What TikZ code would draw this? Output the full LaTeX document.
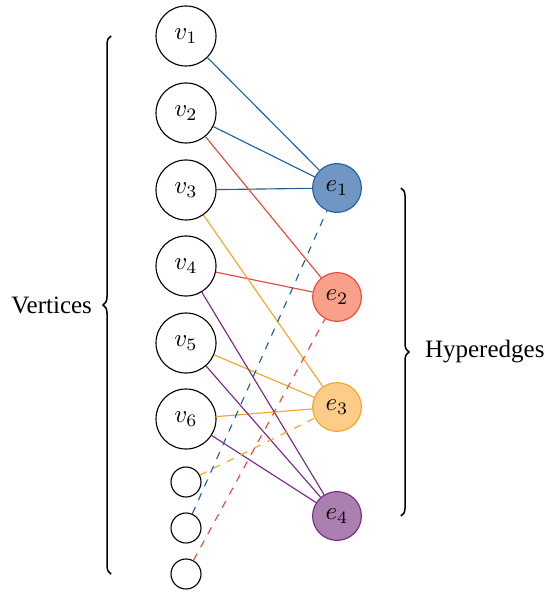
\documentclass[tikz,border=0pt]{standalone}
\usepackage{amsmath}
\usepackage{fontspec}
\setmainfont{Liberation Serif}
\usepackage{xcolor}
\usepackage{tikz}
\usetikzlibrary{decorations.pathreplacing}

\definecolor{hblue}{RGB}{31,96,160}
\definecolor{hbluef}{RGB}{112,150,196}
\definecolor{hred}{RGB}{232,72,60}
\definecolor{hredf}{RGB}{248,160,138}
\definecolor{horange}{RGB}{245,165,40}
\definecolor{horangef}{RGB}{252,204,136}
\definecolor{hpurple}{RGB}{120,40,135}
\definecolor{hpurplef}{RGB}{170,128,176}

\begin{document}
\begin{tikzpicture}[x=0.4pt,y=-0.4pt,line width=0.45pt,
  vx/.style={draw,circle,minimum size=24pt,inner sep=0pt},
  sv/.style={draw,circle,minimum size=12pt,inner sep=0pt},
  he/.style={draw,circle,minimum size=19.5pt,inner sep=0pt},
  brc/.style={decorate,decoration={brace,amplitude=3.2pt}}]
  \useasboundingbox (0,0) rectangle (550,592);
  % vertices
  \node[vx] (v1) at (186,36)  {$v_1$};
  \node[vx] (v2) at (186,113) {$v_2$};
  \node[vx] (v3) at (186,190) {$v_3$};
  \node[vx] (v4) at (186,266) {$v_4$};
  \node[vx] (v5) at (186,343) {$v_5$};
  \node[vx] (v6) at (186,419) {$v_6$};
  \node[sv] (s1) at (186,482) {};
  \node[sv] (s2) at (186,528) {};
  \node[sv] (s3) at (186,574) {};
  % hyperedges
  \node[he,draw=hblue,fill=hbluef]     (e1) at (337,188) {$e_1$};
  \node[he,draw=hred,fill=hredf]       (e2) at (337,297) {$e_2$};
  \node[he,draw=horange,fill=horangef] (e3) at (337,407) {$e_3$};
  \node[he,draw=hpurple,fill=hpurplef] (e4) at (337,516) {$e_4$};
  % incidences
  \draw[hblue] (v1) -- (e1);
  \draw[hblue] (v2) -- (e1);
  \draw[hblue] (v3) -- (e1);
  \draw[hred] (v2) -- (e2);
  \draw[hred] (v4) -- (e2);
  \draw[horange] (v3) -- (e3);
  \draw[horange] (v5) -- (e3);
  \draw[horange] (v6) -- (e3);
  \draw[hpurple] (v4) -- (e4);
  \draw[hpurple] (v5) -- (e4);
  \draw[hpurple] (v6) -- (e4);
  \draw[horange,dashed] (s1) -- (e3);
  \draw[hblue,dashed] (s2) -- (e1);
  \draw[hred,dashed] (s3) -- (e2);
  % braces
  \coordinate (lb) at (111,574);
  \coordinate (lt) at (111,36);
  \coordinate (rt) at (401,188);
  \coordinate (rb) at (401,516);
  \draw[brc,line width=0.6pt] (lb) -- (lt) node[midway,left=4pt] (lv) {Vertices};
  \draw[brc,line width=0.6pt] (rt) -- (rb) node[midway,right=6pt] (lh) {Hyperedges};
\end{tikzpicture}
\end{document}
